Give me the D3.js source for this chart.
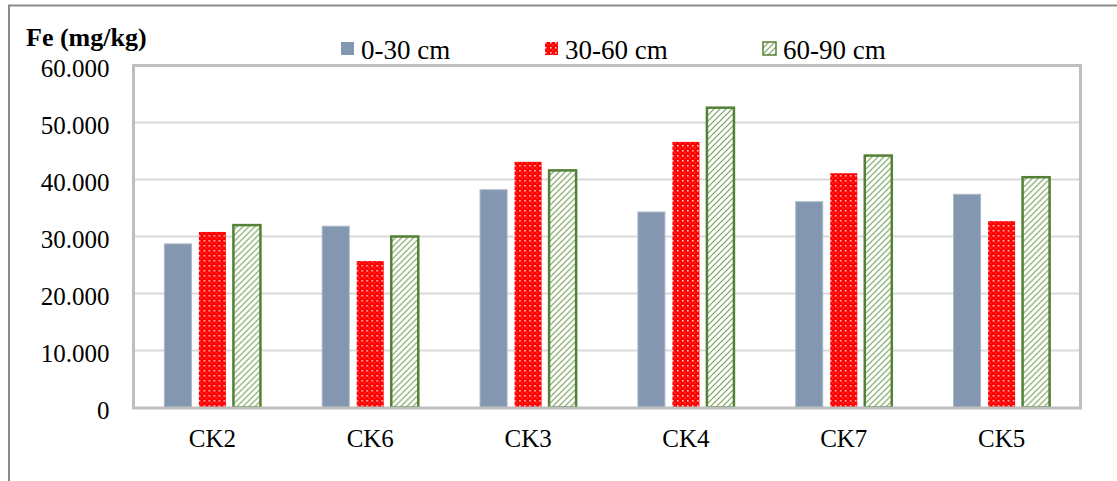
<!DOCTYPE html>
<html>
<head>
<meta charset="utf-8">
<script src="https://cdn.jsdelivr.net/npm/d3@7"></script>
<style>
  html, body { margin: 0; padding: 0; background: #fff; }
  svg { display: block; }
  svg text { font-family: "Liberation Serif", serif; }
</style>
</head>
<body>
<svg id="chart" width="1117" height="481"></svg>
<script>
// Fe content by sampling site and soil depth
const categories = ["CK2", "CK6", "CK3", "CK4", "CK7", "CK5"];
const seriesNames = ["0-30 cm", "30-60 cm", "60-90 cm"];
const depth0_30  = [28.7, 31.8, 38.2, 34.3, 36.1, 37.4];
const depth30_60 = [30.8, 25.7, 43.1, 46.6, 41.1, 32.7];
const depth60_90 = [32.0, 30.0, 41.6, 52.6, 44.2, 40.4];
const yTicks = [0, 10, 20, 30, 40, 50, 60];
const yTickLabels = ["0", "10.000", "20.000", "30.000", "40.000", "50.000", "60.000"];

const seriesValues = [depth0_30, depth30_60, depth60_90];

const svg = d3.select("#chart");
const plot = { left: 133.5, right: 1080.5, top: 65.5, bottom: 407.5 };

// Fill patterns
const defs = svg.append("defs");
const dots = defs.append("pattern")
  .attr("id", "redDots").attr("patternUnits", "userSpaceOnUse")
  .attr("width", 5).attr("height", 5);
dots.append("rect").attr("width", 5).attr("height", 5).attr("fill", "#ff0000");
dots.append("rect").attr("x", 0).attr("y", 0).attr("width", 1.6).attr("height", 1.6).attr("fill", "#ffc8c8");
dots.append("rect").attr("x", 2.5).attr("y", 2.5).attr("width", 1).attr("height", 1).attr("fill", "#ff8080");

const hatch = defs.append("pattern")
  .attr("id", "greenHatch").attr("patternUnits", "userSpaceOnUse")
  .attr("width", 6).attr("height", 6);
hatch.append("rect").attr("width", 6).attr("height", 6).attr("fill", "#ffffff");
hatch.append("path").attr("d", "M-1,7 L7,-1 M-4,4 L4,-4 M2,10 L10,2")
  .attr("stroke", "#7aa35c").attr("stroke-width", 1.2);

const fills = ["#8497b0", "url(#redDots)", "url(#greenHatch)"];
const strokes = ["#a9b7c9", "none", "#538135"];
const strokeW = [1, 0, 2.5];

// Outer chart frame (top and left edges visible)
svg.append("path").attr("d", "M9,1117 L9,5.5 L1117,5.5")
  .attr("fill", "none").attr("stroke", "#8c8c8c").attr("stroke-width", 2);

const x0 = d3.scaleBand().domain(categories).range([plot.left, plot.right]).padding(0);
const x1 = d3.scaleBand().domain(d3.range(3)).range([0, x0.bandwidth()])
  .paddingInner(0.217).paddingOuter(0.895);
const y = d3.scaleLinear().domain([0, 60]).range([plot.bottom, plot.top]);

// Gridlines
svg.append("g").selectAll("line").data(yTicks.filter(d => d > 0 && d < 60)).join("line")
  .attr("x1", plot.left).attr("x2", plot.right)
  .attr("y1", d => y(d)).attr("y2", d => y(d))
  .attr("stroke", "#d9d9d9").attr("stroke-width", 2);

// Bars
const groups = svg.append("g").selectAll("g").data(categories).join("g")
  .attr("transform", d => `translate(${x0(d)},0)`);
groups.selectAll("rect")
  .data((c, i) => seriesValues.map((vals, s) => ({ s, v: vals[i] })))
  .join("rect")
  .attr("x", d => x1(d.s))
  .attr("width", x1.bandwidth())
  .attr("y", d => y(d.v))
  .attr("height", d => plot.bottom - y(d.v))
  .attr("fill", d => fills[d.s])
  .attr("stroke", d => strokes[d.s])
  .attr("stroke-width", d => strokeW[d.s]);

// Plot area border
svg.append("rect")
  .attr("x", plot.left).attr("y", plot.top)
  .attr("width", plot.right - plot.left).attr("height", plot.bottom - plot.top + 0.5)
  .attr("fill", "none").attr("stroke", "#bfbfbf").attr("stroke-width", 3);

// Y axis labels
const yAxis = d3.axisLeft(y).tickValues(yTicks)
  .tickFormat((d, i) => yTickLabels[i]).tickSize(0).tickPadding(24);
const yg = svg.append("g").attr("transform", `translate(${plot.left},0)`).call(yAxis);
yg.attr("font-family", "Liberation Serif").attr("font-size", 25);
yg.select(".domain").remove();
yg.selectAll("text").attr("fill", "#000").attr("dy", "0.42em");

// X axis labels
const xAxis = d3.axisBottom(x0).tickSize(0).tickPadding(22);
const xg = svg.append("g").attr("transform", `translate(0,${plot.bottom})`).call(xAxis);
xg.attr("font-family", "Liberation Serif").attr("font-size", 25);
xg.select(".domain").remove();
xg.selectAll("text").attr("fill", "#000");

// Unit title
svg.append("text").attr("x", 26).attr("y", 46)
  .attr("font-family", "Liberation Serif").attr("font-size", 26).attr("font-weight", "bold")
  .text("Fe (mg/kg)");

// Legend
const legendX = [341, 545, 763];
const leg = svg.append("g").selectAll("g").data(seriesNames).join("g")
  .attr("transform", (d, i) => `translate(${legendX[i]},42)`);
leg.append("rect").attr("width", 13).attr("height", 13)
  .attr("fill", (d, i) => fills[i])
  .attr("stroke", (d, i) => i === 2 ? "#538135" : "none")
  .attr("stroke-width", 1.5);
leg.append("text").attr("x", 20).attr("y", 17)
  .attr("font-family", "Liberation Serif").attr("font-size", 27).text(d => d);
</script>
</body>
</html>
